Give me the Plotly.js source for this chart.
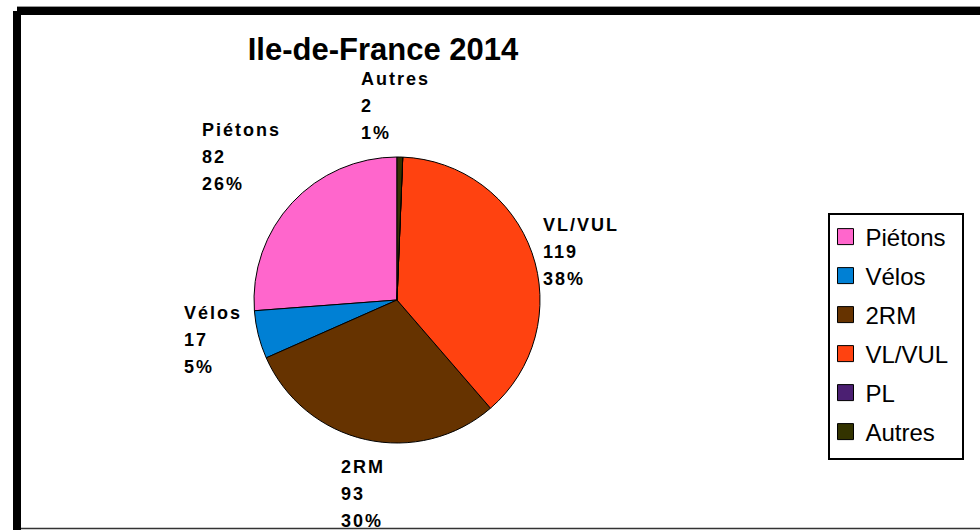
<!DOCTYPE html>
<html>
<head>
<meta charset="utf-8">
<script src="https://cdn.plot.ly/plotly-3.0.1.min.js"></script>
<style>
html,body{margin:0;padding:0;background:#fff;}
#chart{width:980px;height:530px;}
</style>
</head>
<body>
<div id="chart"></div>
<script>
// ---- data ----
const categories = ["Piétons", "Vélos", "2RM", "VL/VUL", "PL", "Autres"];
const counts = [82, 17, 93, 119, 0, 2];
const sliceColors = ["#FF66CC", "#0080D4", "#663300", "#FF4210", "#4B1F72", "#333300"];
const chartTitle = "Ile-de-France 2014";

// ---- layout helpers (pixel -> paper) ----
const W = 980, H = 530;
const px = x => x / W;
const py = y => 1 - y / H;

const total = counts.reduce((a, b) => a + b, 0);

// label block positions (left x, centre of first line) – style only
const labelPos = {
  "Piétons": [200, 130],
  "Vélos": [182, 313],
  "2RM": [339, 467],
  "VL/VUL": [541, 225],
  "Autres": [359, 79]
};
const lineStep = 27;
const labelFont = {family: "Liberation Sans, Arial, sans-serif", size: 18, color: "#000", weight: 700};

const annotations = [];
categories.forEach((c, i) => {
  if (!labelPos[c] || counts[i] === 0) return;
  const [lx, ly] = labelPos[c];
  const lines = [c, String(counts[i]), Math.round(counts[i] / total * 100) + "%"];
  lines.forEach((t, k) => {
    annotations.push({
      xref: "paper", yref: "paper",
      x: px(lx), y: py(ly + k * lineStep),
      xanchor: "left", yanchor: "middle", align: "left",
      text: "<b>" + t + "</b>", showarrow: false, font: labelFont
    });
  });
});

const shapes = [
  {type: "rect", xref: "paper", yref: "paper", x0: px(17), x1: px(985), y0: py(7), y1: py(15), fillcolor: "#000", line: {width: 0}},
  {type: "line", xref: "paper", yref: "paper", x0: px(17), x1: px(985), y0: py(6.5), y1: py(6.5), line: {color: "#999", width: 1}},
  {type: "rect", xref: "paper", yref: "paper", x0: px(13), x1: px(21), y0: py(11), y1: py(535), fillcolor: "#000", line: {width: 0}},
  {type: "line", xref: "paper", yref: "paper", x0: px(21), x1: px(985), y0: py(528.5), y1: py(528.5), line: {color: "#333", width: 1.5}}
];

// Plotly places the first slice clockwise from 12 o'clock even for
// counterclockwise direction; rotate so slices run counterclockwise from 12.
const firstAngle = 360 * counts[0] / total;

const trace = {
  type: "pie",
  labels: categories,
  values: counts,
  sort: false,
  direction: "counterclockwise",
  rotation: -firstAngle,
  textinfo: "none",
  hoverinfo: "label+value+percent",
  marker: {colors: sliceColors, line: {color: "#000", width: 1}},
  domain: {x: [px(254), px(540)], y: [py(443), py(157)]}
};

const layout = {
  width: W, height: H,
  margin: {l: 0, r: 0, t: 0, b: 0},
  paper_bgcolor: "#fff",
  plot_bgcolor: "#fff",
  font: {family: "Liberation Sans, Arial, sans-serif", color: "#000"},
  title: {
    text: "<b>" + chartTitle + "</b>",
    font: {family: "Liberation Sans, Arial, sans-serif", size: 31, color: "#000"},
    xref: "paper", yref: "paper",
    x: px(383), xanchor: "center",
    y: py(49), yanchor: "middle"
  },
  showlegend: true,
  legend: {
    x: px(828), y: py(213), xanchor: "left", yanchor: "top",
    bgcolor: "#fff", bordercolor: "#000", borderwidth: 1.5,
    font: {family: "Liberation Sans, Arial, sans-serif", size: 24, color: "#000"},
    traceorder: "normal"
  },
  annotations: annotations,
  shapes: shapes
};

Plotly.newPlot("chart", [trace], layout, {displayModeBar: false, staticPlot: true}).then(gd => {
  document.querySelectorAll(".annotation-text").forEach(t => { t.style.letterSpacing = "2px"; });
  document.querySelectorAll(".legendpoints path").forEach(p => { p.setAttribute("d", "M8,8H-8V-8H8Z"); });
  const sb = document.querySelector(".legend .scrollbox");
  if (sb) sb.removeAttribute("clip-path");
  const items = Array.from(document.querySelectorAll(".legend .traces"));
  if (items.length > 1) {
    const parse = el => {
      const m = /translate\(\s*([-\d.]+)[ ,]+([-\d.]+)\s*\)/.exec(el.getAttribute("transform") || "");
      return m ? [parseFloat(m[1]), parseFloat(m[2])] : [0, 0];
    };
    const p0 = parse(items[0]), p1 = parse(items[1]);
    const extra = 39 - (p1[1] - p0[1]);
    items.forEach((el, i) => {
      const [tx, ty] = parse(el);
      el.setAttribute("transform", "translate(" + (tx - 4) + "," + (ty + i * extra) + ")");
    });
    const bg = document.querySelector(".legend rect.bg");
    if (bg) {
      bg.setAttribute("height", 245);
      bg.setAttribute("width", 134);
    }
  }
});
</script>
</body>
</html>
